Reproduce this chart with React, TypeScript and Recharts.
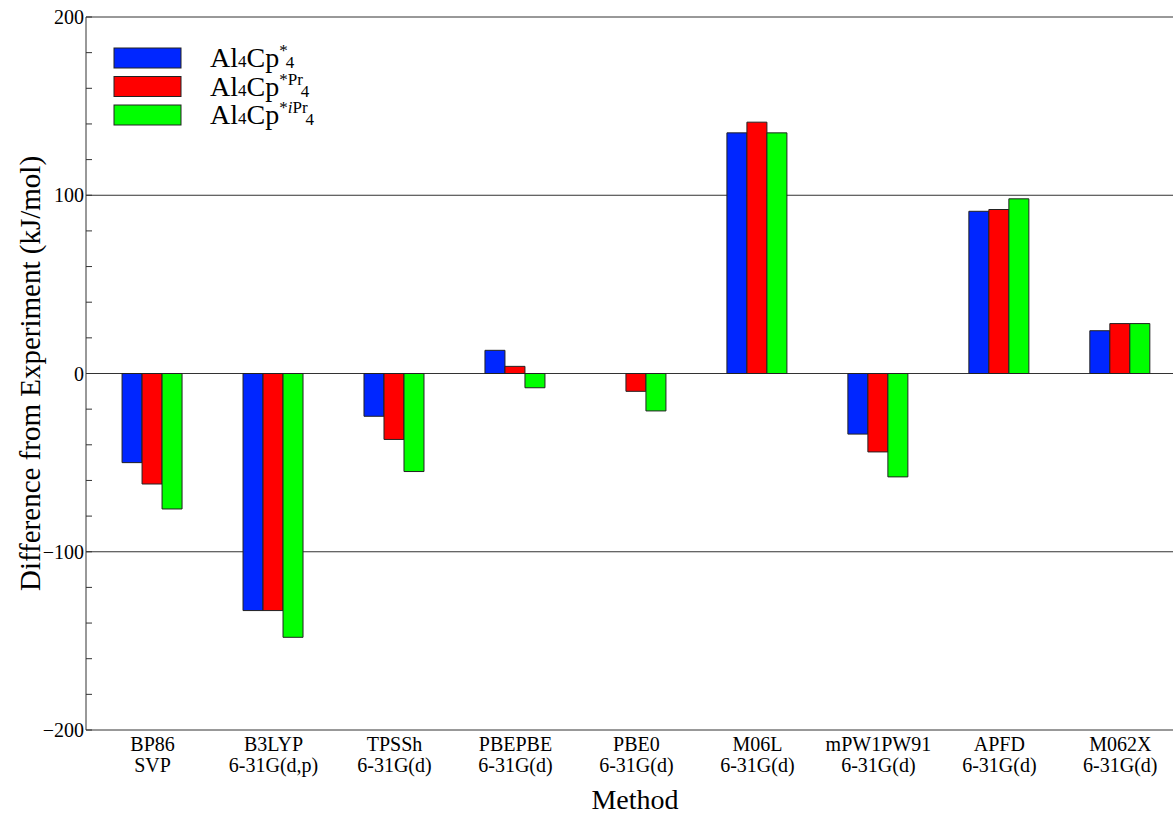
import React from 'react';
import { BarChart, Bar, XAxis, YAxis, CartesianGrid, Label } from 'recharts';

const methods = ['BP86', 'B3LYP', 'TPSSh', 'PBEPBE', 'PBE0', 'M06L', 'mPW1PW91', 'APFD', 'M062X'];
const basisSets = ['SVP', '6-31G(d,p)', '6-31G(d)', '6-31G(d)', '6-31G(d)', '6-31G(d)', '6-31G(d)', '6-31G(d)', '6-31G(d)'];

const al4cpStar = [-50, -133, -24, 13, 0, 135, -34, 91, 24];
const al4cpStarPr = [-62, -133, -37, 4, -10, 141, -44, 92, 28];
const al4cpStarIPr = [-76, -148, -55, -8, -21, 135, -58, 98, 28];

const yTicks = [-200, -180, -160, -140, -120, -100, -80, -60, -40, -20, 0, 20, 40, 60, 80, 100, 120, 140, 160, 180, 200];
const gridValues = [200, 100, 0, -100];

const seriesKeys = ['star', 'starPr', 'starIPr'];
const seriesColors = ['#0026ff', '#ff0000', '#00ff00'];
// legend superscripts: [text, italic]
const seriesSup: [string, boolean][][] = [
  [['*', false]],
  [['*Pr', false]],
  [['*', false], ['i', true], ['Pr', false]],
];

const FONT = "'Liberation Serif', 'Times New Roman', serif";

const data = methods.map((m, i) => ({
  x: i + 1,
  star: al4cpStar[i],
  starPr: al4cpStarPr[i],
  starIPr: al4cpStarIPr[i],
}));

const fmt = (v: number) => (v < 0 ? '\u2212' + Math.abs(v) : String(v));

const YTick = (props: any) => {
  const { x, y, payload } = props;
  const v = payload.value;
  return (
    <g>
      <line x1={x} x2={x + 6} y1={y} y2={y} stroke="#333" strokeWidth={1} />
      {v % 100 === 0 && (
        <text x={x - 2} y={y} dy="0.35em" textAnchor="end" fontSize={20} fontFamily={FONT} fill="#000">
          {fmt(v)}
        </text>
      )}
    </g>
  );
};

const XTick = (props: any) => {
  const { x, y, payload } = props;
  const i = payload.value - 1;
  if (i < 0 || i >= methods.length) return null;
  return (
    <g>
      <text x={x} y={y + 21} textAnchor="middle" fontSize={20} fontFamily={FONT} fill="#000">
        {methods[i]}
      </text>
      <text x={x} y={y + 42} textAnchor="middle" fontSize={20} fontFamily={FONT} fill="#000">
        {basisSets[i]}
      </text>
    </g>
  );
};

const YLabel = (props: any) => {
  const vb = props.viewBox || {};
  const cx = (vb.x || 0) + 30;
  const cy = (vb.y || 0) + (vb.height || 0) / 2;
  return (
    <text
      x={cx}
      y={cy}
      dy="0.35em"
      textAnchor="middle"
      fontSize={29}
      fontFamily={FONT}
      fill="#000"
      transform={`rotate(-90, ${cx}, ${cy})`}
    >
      Difference from Experiment (kJ/mol)
    </text>
  );
};

const XLabel = (props: any) => {
  const vb = props.viewBox || {};
  const cx = (vb.x || 0) + (vb.width || 0) * 0.4906;
  const by = (vb.y || 0) + 79;
  return (
    <text x={cx} y={by} textAnchor="middle" fontSize={28} fontFamily={FONT} fill="#000">
      Method
    </text>
  );
};

const LegendBox = () => (
  <svg width={400} height={140} style={{ position: 'absolute', left: 0, top: 0 }}>
    {seriesColors.map((c, i) => {
      const top = 48 + i * 28.5;
      const base = top + 19;
      return (
        <g key={i}>
          <rect x={114} y={top} width={67} height={20} fill={c} stroke="#222" strokeWidth={1} />
          <text x={210} y={base} fontSize={28} fontFamily={FONT} fill="#000">
            <tspan>Al</tspan>
            <tspan fontSize={17}>4</tspan>
            <tspan>Cp</tspan>
            {seriesSup[i].map(([t, it], j) => (
              <tspan key={j} fontSize={17} fontStyle={it ? 'italic' : 'normal'} dy={j === 0 ? -11 : 0}>
                {t}
              </tspan>
            ))}
            <tspan fontSize={17} dy={12} dx={-2}>4</tspan>
          </text>
        </g>
      );
    })}
  </svg>
);

export default function App() {
  return (
    <div style={{ position: 'absolute', left: 0, top: 0, width: 1173, height: 816, overflow: 'hidden', background: '#fff' }}>
      <BarChart
        width={1210}
        height={816}
        data={data}
        margin={{ top: 17, right: 5, bottom: 0, left: 0 }}
        barSize={20}
        barGap={0}
      >
        <CartesianGrid horizontal vertical={false} horizontalValues={gridValues} stroke="#333" strokeWidth={1} />
        <XAxis
          type="number"
          dataKey="x"
          domain={[0.45, 9.7]}
          allowDataOverflow
          ticks={[1, 2, 3, 4, 5, 6, 7, 8, 9]}
          interval={0}
          height={86}
          tickLine={false}
          tickSize={0}
          tickMargin={0}
          axisLine={{ stroke: '#333', strokeWidth: 1 }}
          tick={<XTick />}
        >
          <Label content={<XLabel />} />
        </XAxis>
        <YAxis
          type="number"
          domain={[-200, 200]}
          ticks={yTicks}
          interval={0}
          width={86}
          tickLine={false}
          tickSize={0}
          tickMargin={0}
          axisLine={{ stroke: '#333', strokeWidth: 1 }}
          tick={<YTick />}
        >
          <Label content={<YLabel />} />
        </YAxis>
        {seriesKeys.map((k, i) => (
          <Bar key={k} dataKey={k} fill={seriesColors[i]} stroke="#222" strokeWidth={1} isAnimationActive={false} />
        ))}
      </BarChart>
      <LegendBox />
    </div>
  );
}
